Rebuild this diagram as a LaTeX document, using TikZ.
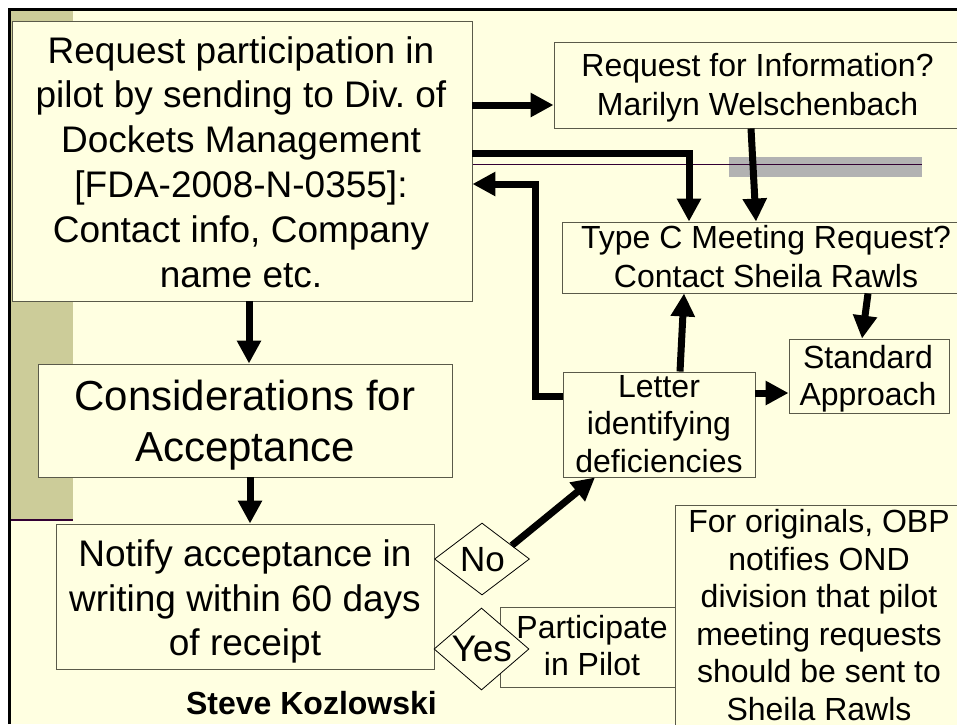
\documentclass[tikz,border=0pt]{standalone}
\usepackage{fontspec}
\setmainfont{Liberation Sans}
\usetikzlibrary{arrows.meta,shapes.geometric,calc}
\definecolor{bg}{HTML}{FFFFE1}
\definecolor{khaki}{HTML}{CCCC99}
\definecolor{plum}{HTML}{330033}
\definecolor{band}{HTML}{B2B2B2}
\definecolor{edge}{HTML}{5A5A4A}
\newcommand{\fsz}[2]{\fontsize{#1}{#2}\selectfont}
\frenchspacing
\begin{document}
\begin{tikzpicture}[x=1pt,y=-1pt,
  box/.style={draw=edge, line width=0.9pt, fill=bg, inner sep=0pt},
  txt/.style={anchor=base, align=center, inner sep=0pt, text=black},
  arr/.style={draw=black, line width=7pt, -{Triangle[length=23pt,width=23pt]}},
  dia/.style={diamond, draw=black, line width=0.8pt, fill=bg, inner sep=0pt}]
\useasboundingbox (0,0) rectangle (957,724);
\clip (0,0) rectangle (957,724);
% background
\fill[white] (0,0) rectangle (957,724);
\fill[bg] (9.5,9.5) rectangle (957,724);
\fill[khaki] (11,11) rectangle (73,520);
\draw[plum, line width=2.5pt] (11,520) -- (73,520);
\draw[black, line width=3pt] (9.5,724) -- (9.5,9.5) -- (957,9.5);
\fill[band] (729,157) rectangle (922,177);
\draw[plum, line width=1.5pt] (472,164.5) -- (922,164.5);
% boxes
\node[box, minimum width=460pt, minimum height=280pt] (req) at (242,161) {};
\node[box, minimum width=407pt, minimum height=86pt] (rfi) at (757.5,85) {};
\node[box, minimum width=408pt, minimum height=71pt] (typec) at (766,257.5) {};
\node[box, minimum width=192pt, minimum height=105pt] (letter) at (659,424.5) {};
\node[box, minimum width=160pt, minimum height=74pt] (std) at (869,376) {};
\node[box, minimum width=414pt, minimum height=113pt] (cons) at (245,420.5) {};
\node[box, minimum width=378pt, minimum height=145pt] (notify) at (245,596.5) {};
\node[box, minimum width=175pt, minimum height=80pt] (part) at (587.5,647) {};
\node[box, minimum width=300pt, minimum height=240pt] (orig) at (825,625) {};
\node[dia, minimum width=95pt, minimum height=72pt] (no) at (482,559) {};
\node[dia, minimum width=95pt, minimum height=82pt] (yes) at (481.5,649) {};
% texts (anchor=base is the baseline of the last line)
\node[txt, font=\fsz{37}{44.8}] (req-t) at (241,287) {Request participation in\\pilot by sending to Div. of\\Dockets Management\\{[}FDA-2008-N-0355{]}:\\Contact info, Company\\name etc.};
\node[txt, font=\fsz{32}{38.3}] (rfi-t) at (757.5,115) {Request for Information?\\Marilyn Welschenbach};
\node[txt, font=\fsz{32}{39}] (typec-t) at (766,287.3) {Type C Meeting Request?\\Contact Sheila Rawls};
\node[txt, font=\fsz{32}{37.5}] (letter-t) at (659,472) {Letter\\identifying\\deficiencies};
\node[txt, font=\fsz{32}{37}] (std-t) at (868,405) {Standard\\Approach};
\node[txt, font=\fsz{42}{51}] (cons-t) at (245,461.7) {Considerations for\\Acceptance};
\node[txt, font=\fsz{37}{44.3}] (notify-t) at (245,655.3) {Notify acceptance in\\writing within 60 days\\of receipt};
\node[txt, font=\fsz{32}{37}] (part-t) at (592,675) {Participate\\in Pilot};
\node[txt, font=\fsz{32}{37.5}] (orig-t) at (819,720.2) {For originals, OBP\\notifies OND\\division that pilot\\meeting requests\\should be sent to\\Sheila Rawls};
\node[txt, font=\fsz{35}{40}] (no-t) at (482.5,571.7) {No};
\node[txt, font=\fsz{37}{42}] (yes-t) at (481.7,661.7) {Yes};
\node[txt, font=\fsz{32}{38}\bfseries] (steve-t) at (311.5,714) {Steve Kozlowski};
% connectors
\coordinate (fb) at (535,184);
\draw[arr] (req.east |- 0,105) -- (rfi.west |- 0,105);
\draw[arr] (req.east |- 0,153) -| (typec.north -| 689,0);
\draw[arr] (rfi.south -| 751,0) -- (typec.north -| 756,0);
\draw[arr] (letter.west |- 0,396) -| (fb) -- (req.east |- fb);
\draw[arr] (letter.north -| 680,0) -- (typec.south -| 684,0);
\draw[arr] (typec.south -| 868,0) -- (std.north -| 862,0);
\draw[arr] (letter.east |- 0,393) -- (std.west |- 0,393);
\draw[arr] ($(no.north east)!0.25!(no.east)$) -- (letter.south -| 595,0);
\draw[arr] (req.south -| 249,0) -- (cons.north -| 249,0);
\draw[arr] (cons.south -| 250,0) -- (notify.north -| 250,0);
\end{tikzpicture}
\end{document}
